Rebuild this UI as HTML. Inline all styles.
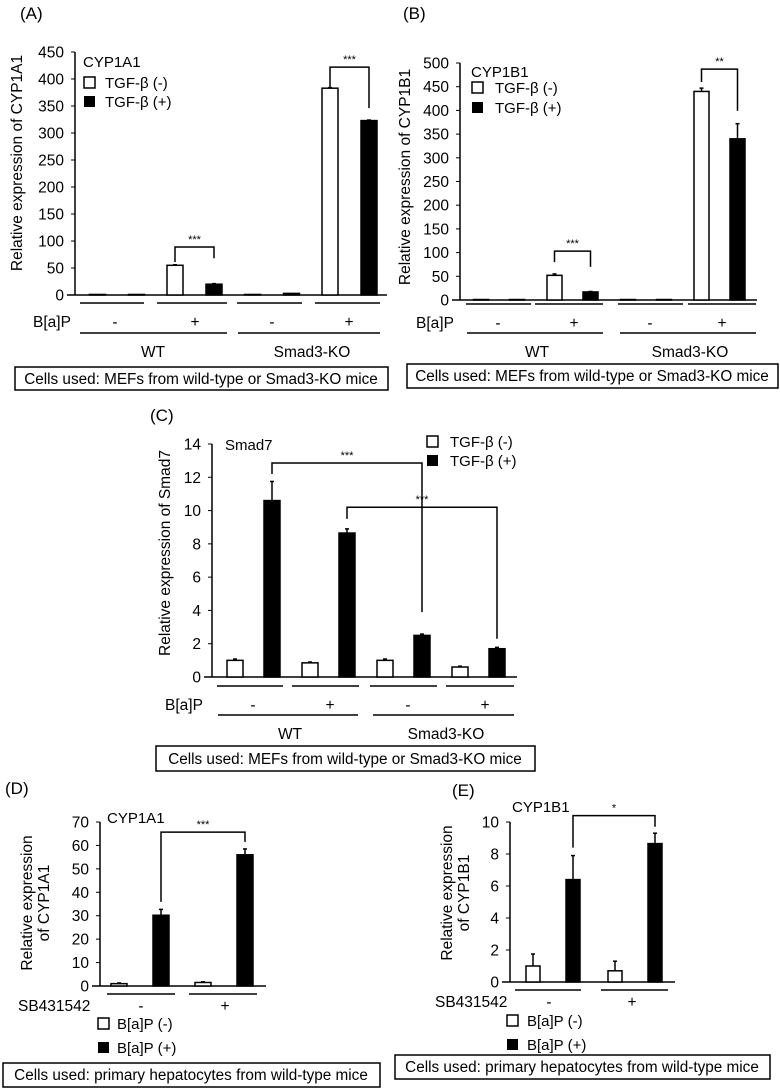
<!DOCTYPE html>
<html><head><meta charset="utf-8"><style>
body{margin:0;background:#fff}
svg{display:block;font-family:"Liberation Sans",sans-serif}
text{fill:#000}
</style></head><body>
<svg id="fig" width="780" height="1090" viewBox="0 0 780 1090">
<g id="static" font-size="15.5">
<!-- Panel A static -->
<text x="20" y="19" font-size="17">(A)</text>
<text x="83" y="67" font-size="15">CYP1A1</text>
<rect x="84" y="77" width="11" height="11" fill="#fff" stroke="#000" stroke-width="1.5"/>
<text x="105" y="88" font-size="15">TGF-β (-)</text>
<rect x="84" y="96" width="11" height="11" fill="#000"/>
<text x="105" y="107" font-size="15">TGF-β (+)</text>
<text transform="translate(22,163) rotate(-90)" text-anchor="middle">Relative expression of CYP1A1</text>
<g stroke="#000" stroke-width="1.5">
<line x1="80" y1="303" x2="144" y2="303"/><line x1="157" y1="303" x2="227" y2="303"/><line x1="237" y1="303" x2="302" y2="303"/><line x1="315" y1="303" x2="380" y2="303"/>
<line x1="80" y1="333" x2="227" y2="333"/><line x1="238" y1="333" x2="380" y2="333"/></g>
<text x="33" y="327">B[a]P</text>
<text x="115" y="327" text-anchor="middle">-</text><text x="195" y="327" text-anchor="middle">+</text>
<text x="272" y="327" text-anchor="middle">-</text><text x="349" y="327" text-anchor="middle">+</text>
<text x="153" y="357" text-anchor="middle">WT</text>
<text x="312" y="357" text-anchor="middle">Smad3-KO</text>
<rect x="15" y="367" width="373" height="23" fill="none" stroke="#000" stroke-width="1.5"/>
<text x="201" y="384" text-anchor="middle" font-size="15.3">Cells used: MEFs from wild-type or Smad3-KO mice</text>

<!-- Panel B static -->
<text x="403" y="19" font-size="17">(B)</text>
<text x="471" y="77" font-size="15">CYP1B1</text>
<rect x="472" y="82" width="11" height="11" fill="#fff" stroke="#000" stroke-width="1.5"/>
<text x="495" y="93" font-size="15">TGF-β (-)</text>
<rect x="472" y="102" width="11" height="11" fill="#000"/>
<text x="495" y="113" font-size="15">TGF-β (+)</text>
<text transform="translate(410,177) rotate(-90)" text-anchor="middle">Relative expression of CYP1B1</text>
<g stroke="#000" stroke-width="1.5">
<line x1="466" y1="304" x2="531" y2="304"/><line x1="535" y1="304" x2="603" y2="304"/><line x1="618" y1="304" x2="683" y2="304"/><line x1="688" y1="304" x2="756" y2="304"/>
<line x1="467" y1="333" x2="603" y2="333"/><line x1="620" y1="333" x2="756" y2="333"/></g>
<text x="416" y="328">B[a]P</text>
<text x="498" y="328" text-anchor="middle">-</text><text x="574" y="328" text-anchor="middle">+</text>
<text x="650" y="328" text-anchor="middle">-</text><text x="722" y="328" text-anchor="middle">+</text>
<text x="537" y="357" text-anchor="middle">WT</text>
<text x="690" y="357" text-anchor="middle">Smad3-KO</text>
<rect x="407" y="364" width="371" height="24" fill="none" stroke="#000" stroke-width="1.5"/>
<text x="592" y="381" text-anchor="middle" font-size="15.3">Cells used: MEFs from wild-type or Smad3-KO mice</text>

<!-- Panel C static -->
<text x="150" y="421" font-size="17">(C)</text>
<text x="225" y="450" font-size="15">Smad7</text>
<rect x="427" y="436" width="11" height="11" fill="#fff" stroke="#000" stroke-width="1.5"/>
<text x="450" y="447" font-size="15">TGF-β (-)</text>
<rect x="427" y="455" width="11" height="11" fill="#000"/>
<text x="450" y="466" font-size="15">TGF-β (+)</text>
<text transform="translate(170,553) rotate(-90)" text-anchor="middle">Relative expression of Smad7</text>
<g stroke="#000" stroke-width="1.5">
<line x1="217" y1="686" x2="283" y2="686"/><line x1="292" y1="686" x2="359" y2="686"/><line x1="370" y1="686" x2="437" y2="686"/><line x1="446" y1="686" x2="514" y2="686"/>
<line x1="218" y1="715" x2="358" y2="715"/><line x1="373" y1="715" x2="514" y2="715"/></g>
<text x="165" y="710">B[a]P</text>
<text x="253" y="710" text-anchor="middle">-</text><text x="330" y="710" text-anchor="middle">+</text>
<text x="408" y="710" text-anchor="middle">-</text><text x="485" y="710" text-anchor="middle">+</text>
<text x="290" y="739" text-anchor="middle">WT</text>
<text x="446" y="739" text-anchor="middle">Smad3-KO</text>
<rect x="156" y="746" width="379" height="25" fill="none" stroke="#000" stroke-width="1.5"/>
<text x="345" y="764" text-anchor="middle" font-size="15.3">Cells used: MEFs from wild-type or Smad3-KO mice</text>

<!-- Panel D static -->
<text x="5" y="794" font-size="17">(D)</text>
<text x="107" y="823" font-size="15">CYP1A1</text>
<text transform="translate(40,903) rotate(-90)" text-anchor="middle"><tspan x="0" dy="-8">Relative expression</tspan><tspan x="0" dy="17">of CYP1A1</tspan></text>
<g stroke="#000" stroke-width="1.5">
<line x1="107" y1="994" x2="175" y2="994"/><line x1="189" y1="994" x2="257" y2="994"/></g>
<text x="18" y="1011">SB431542</text>
<text x="141" y="1011" text-anchor="middle">-</text><text x="225" y="1011" text-anchor="middle">+</text>
<rect x="98" y="1018" width="11" height="11" fill="#fff" stroke="#000" stroke-width="1.5"/>
<text x="117" y="1029" font-size="15">B[a]P (-)</text>
<rect x="98" y="1042" width="11" height="11" fill="#000"/>
<text x="117" y="1053" font-size="15">B[a]P (+)</text>
<rect x="3" y="1063" width="377" height="24" fill="none" stroke="#000" stroke-width="1.5"/>
<text x="191" y="1080" text-anchor="middle" font-size="15.3">Cells used: primary hepatocytes from wild-type mice</text>

<!-- Panel E static -->
<text x="452" y="796" font-size="17">(E)</text>
<text x="512" y="812" font-size="15">CYP1B1</text>
<text transform="translate(460,893) rotate(-90)" text-anchor="middle"><tspan x="0" dy="-8">Relative expression</tspan><tspan x="0" dy="17">of CYP1B1</tspan></text>
<g stroke="#000" stroke-width="1.5">
<line x1="515" y1="990" x2="581" y2="990"/><line x1="601" y1="990" x2="668" y2="990"/></g>
<text x="435" y="1007">SB431542</text>
<text x="549" y="1007" text-anchor="middle">-</text><text x="632" y="1007" text-anchor="middle">+</text>
<rect x="507" y="1015" width="11" height="11" fill="#fff" stroke="#000" stroke-width="1.5"/>
<text x="527" y="1026" font-size="15">B[a]P (-)</text>
<rect x="507" y="1039" width="11" height="11" fill="#000"/>
<text x="527" y="1050" font-size="15">B[a]P (+)</text>
<rect x="395" y="1055" width="375" height="24" fill="none" stroke="#000" stroke-width="1.5"/>
<text x="582" y="1072" text-anchor="middle" font-size="15.3">Cells used: primary hepatocytes from wild-type mice</text>
</g>
</svg>
<script>
// ---- data ----
const valuesA = [1, 1, 55, 20, 1, 3, 383, 323];
const errorsA = [0, 0, 1, 1, 0, 0, 1, 1];
const ticksA = [0, 50, 100, 150, 200, 250, 300, 350, 400, 450];
const bracketsA = [[2, 3, 89, 61, 68, "***"], [6, 7, 422, 385, 346, "***"]];

const valuesB = [1, 1, 52, 17, 1, 1, 440, 340];
const errorsB = [0, 0, 3, 1, 0, 0, 7, 32];
const ticksB = [0, 50, 100, 150, 200, 250, 300, 350, 400, 450, 500];
const bracketsB = [[2, 3, 103, 80, 70, "***"], [6, 7, 487, 460, 399, "**"]];

const valuesC = [1.0, 10.6, 0.85, 8.65, 1.0, 2.5, 0.6, 1.7];
const errorsC = [0.08, 1.15, 0.05, 0.25, 0.08, 0.08, 0.05, 0.08];
const ticksC = [0, 2, 4, 6, 8, 10, 12, 14];
const bracketsC = [[1, 5, 12.86, 12.2, 3.9, "***"], [3, 7, 10.2, 9.5, 2.3, "***"]];

const valuesD = [1, 30.2, 1.5, 56];
const errorsD = [0.3, 2.5, 0.3, 2.5];
const ticksD = [0, 10, 20, 30, 40, 50, 60, 70];
const bracketsD = [[1, 3, 65.7, 35.9, 61.5, "***"]];

const valuesE = [1.0, 6.4, 0.7, 8.65];
const errorsE = [0.75, 1.5, 0.6, 0.65];
const ticksE = [0, 2, 4, 6, 8, 10];
const bracketsE = [[1, 3, 10.4, 8.4, 9.7, "*"]];

const NS = "http://www.w3.org/2000/svg";
const svg = document.getElementById("fig");
function mk(tag, attrs, parent) {
  const e = document.createElementNS(NS, tag);
  for (const k in attrs) e.setAttribute(k, attrs[k]);
  parent.appendChild(e);
  return e;
}
function panel(id, cfg, values, errors, ticks, brackets) {
  const g = mk("g", {}, svg);
  
  
  const ymax = ticks[ticks.length - 1];
  const y = v => cfg.base - (v / ymax) * (cfg.base - cfg.top);
  const bx = i => cfg.g0 + Math.floor(i / 2) * cfg.gs + (i % 2) * cfg.fo;
  const ax = mk("line", {x1: cfg.ax, y1: cfg.top, x2: cfg.ax, y2: cfg.base, stroke: "#000", "stroke-width": 1.5}, g);
  
  
  const xa = mk("line", {x1: cfg.ax - 8, y1: cfg.base, x2: cfg.end, y2: cfg.base, stroke: "#000", "stroke-width": 1.5}, g);
  
  
  ticks.forEach(t => {
    mk("line", {x1: cfg.ax - 4, y1: y(t), x2: cfg.ax, y2: y(t), stroke: "#000", "stroke-width": 1}, g);
    const tx = mk("text", {x: cfg.ax - 11, y: y(t) + 5.5, "text-anchor": "end", "font-size": 15.5}, g);
    tx.textContent = t;
    
    
  });
  values.forEach((v, i) => {
    const x = bx(i), filled = i % 2 === 1;
    if (errors[i] > 0) {
      const c = x + cfg.w / 2;
      mk("line", {x1: c, y1: y(v), x2: c, y2: y(v + errors[i]), stroke: "#000", "stroke-width": 1.5}, g);
      mk("line", {x1: c - 2, y1: y(v + errors[i]), x2: c + 2, y2: y(v + errors[i]), stroke: "#000", "stroke-width": 1.5}, g);
    }
    const r = mk("rect", {x: x, y: y(v), width: cfg.w, height: Math.max(cfg.base - y(v), 0.5),
      fill: filled ? "#000" : "#fff", stroke: "#000", "stroke-width": 1.5}, g);
    
    
  });
  brackets.forEach(b => {
    const x1 = bx(b[0]) + cfg.w / 2, x2 = bx(b[1]) + cfg.w / 2;
    const p = mk("polyline", {points: `${x1},${y(b[3])} ${x1},${y(b[2])} ${x2},${y(b[2])} ${x2},${y(b[4])}`,
      fill: "none", stroke: "#000", "stroke-width": 1.5}, g);
    
    
    const s = mk("text", {x: (x1 + x2) / 2, y: y(b[2]) - 4, "text-anchor": "middle", "font-size": 11}, g);
    s.textContent = b[5];
    
    
  });
}
panel("a", {ax: 75, end: 387, base: 295, top: 52, g0: 89.5, gs: 77.5, fo: 39, w: 16}, valuesA, errorsA, ticksA, bracketsA);
panel("b", {ax: 460, end: 757, base: 300, top: 63, g0: 473.5, gs: 73.5, fo: 36, w: 15}, valuesB, errorsB, ticksB, bracketsB);
panel("c", {ax: 212, end: 517, base: 677, top: 444, g0: 227, gs: 75, fo: 37, w: 16}, valuesC, errorsC, ticksC, bracketsC);
panel("d", {ax: 100, end: 266, base: 986, top: 822, g0: 111, gs: 84, fo: 42, w: 16}, valuesD, errorsD, ticksD, bracketsD);
panel("e", {ax: 510, end: 675, base: 982, top: 822, g0: 526, gs: 82, fo: 40, w: 14}, valuesE, errorsE, ticksE, bracketsE);
</script>
</body></html>
